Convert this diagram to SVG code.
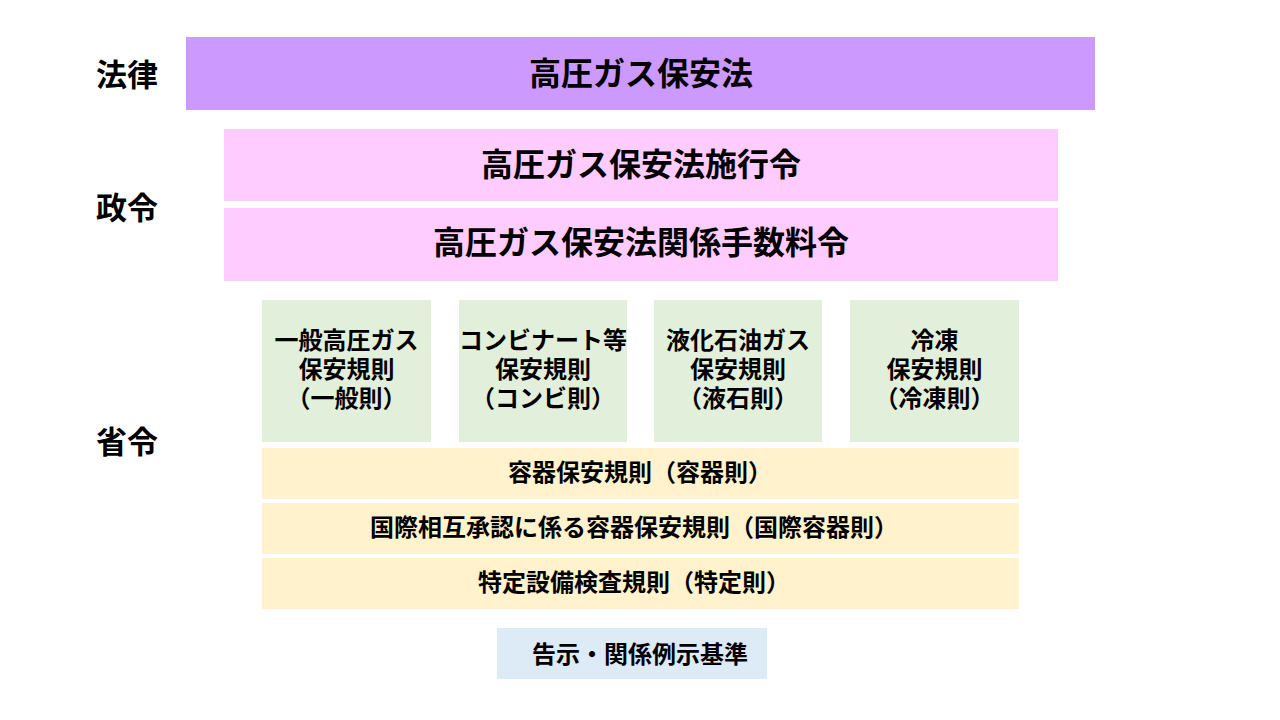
<svg xmlns="http://www.w3.org/2000/svg" width="1280" height="720" viewBox="0 0 1280 720">
<style>
text{font-family:"Noto Sans CJK JP","Noto Sans CJK SC",sans-serif;fill:#000;text-anchor:middle;dominant-baseline:central;font-weight:700}
.lbl{font-size:31px;text-anchor:start}
.big{font-size:32px}
.mid{font-size:24px}
.law{fill:#CC99FF}
.ord{fill:#FFCCFF}
.rule{fill:#E2EFDA}
.yel{fill:#FFF2CC}
.note{fill:#DDEBF7}
</style>
<rect width="1280" height="720" fill="#fff"/>
<g id="labels">
<text class="lbl" x="96" y="72">法律</text>
<text class="lbl" x="96" y="205">政令</text>
<text class="lbl" x="96" y="439">省令</text>
</g>
<g id="law"><rect class="law" x="186" y="37" width="909" height="73"/><text class="big" x="641" y="71">高圧ガス保安法</text></g>
<g id="ord1"><rect class="ord" x="224" y="129" width="834" height="72"/><text class="big" x="641" y="162">高圧ガス保安法施行令</text></g>
<g id="ord2"><rect class="ord" x="224" y="208" width="834" height="73"/><text class="big" x="641" y="240">高圧ガス保安法関係手数料令</text></g>
<g id="r1"><rect class="rule" x="262" y="300" width="169" height="142"/><text class="mid" x="346.5" y="338">一般高圧ガス</text><text class="mid" x="346.5" y="367">保安規則</text><text class="mid" x="346.5" y="396">（一般則）</text></g>
<g id="r2"><rect class="rule" x="459" y="300" width="168" height="142"/><text class="mid" x="543" y="338">コンビナート等</text><text class="mid" x="543" y="367">保安規則</text><text class="mid" x="543" y="396">（コンビ則）</text></g>
<g id="r3"><rect class="rule" x="654" y="300" width="168" height="142"/><text class="mid" x="738" y="338">液化石油ガス</text><text class="mid" x="738" y="367">保安規則</text><text class="mid" x="738" y="396">（液石則）</text></g>
<g id="r4"><rect class="rule" x="850" y="300" width="169" height="142"/><text class="mid" x="934.5" y="338">冷凍</text><text class="mid" x="934.5" y="367">保安規則</text><text class="mid" x="934.5" y="396">（冷凍則）</text></g>
<g id="y1"><rect class="yel" x="262" y="448" width="757" height="51"/><text class="mid" x="640" y="470">容器保安規則（容器則）</text></g>
<g id="y2"><rect class="yel" x="262" y="503" width="757" height="51"/><text class="mid" x="634" y="525">国際相互承認に係る容器保安規則（国際容器則）</text></g>
<g id="y3"><rect class="yel" x="262" y="558" width="757" height="51"/><text class="mid" x="634" y="580">特定設備検査規則（特定則）</text></g>
<g id="note"><rect class="note" x="497" y="628" width="270" height="51"/><text class="mid" x="640" y="652">告示・関係例示基準</text></g>
<g id="connectors"/>
</svg>
